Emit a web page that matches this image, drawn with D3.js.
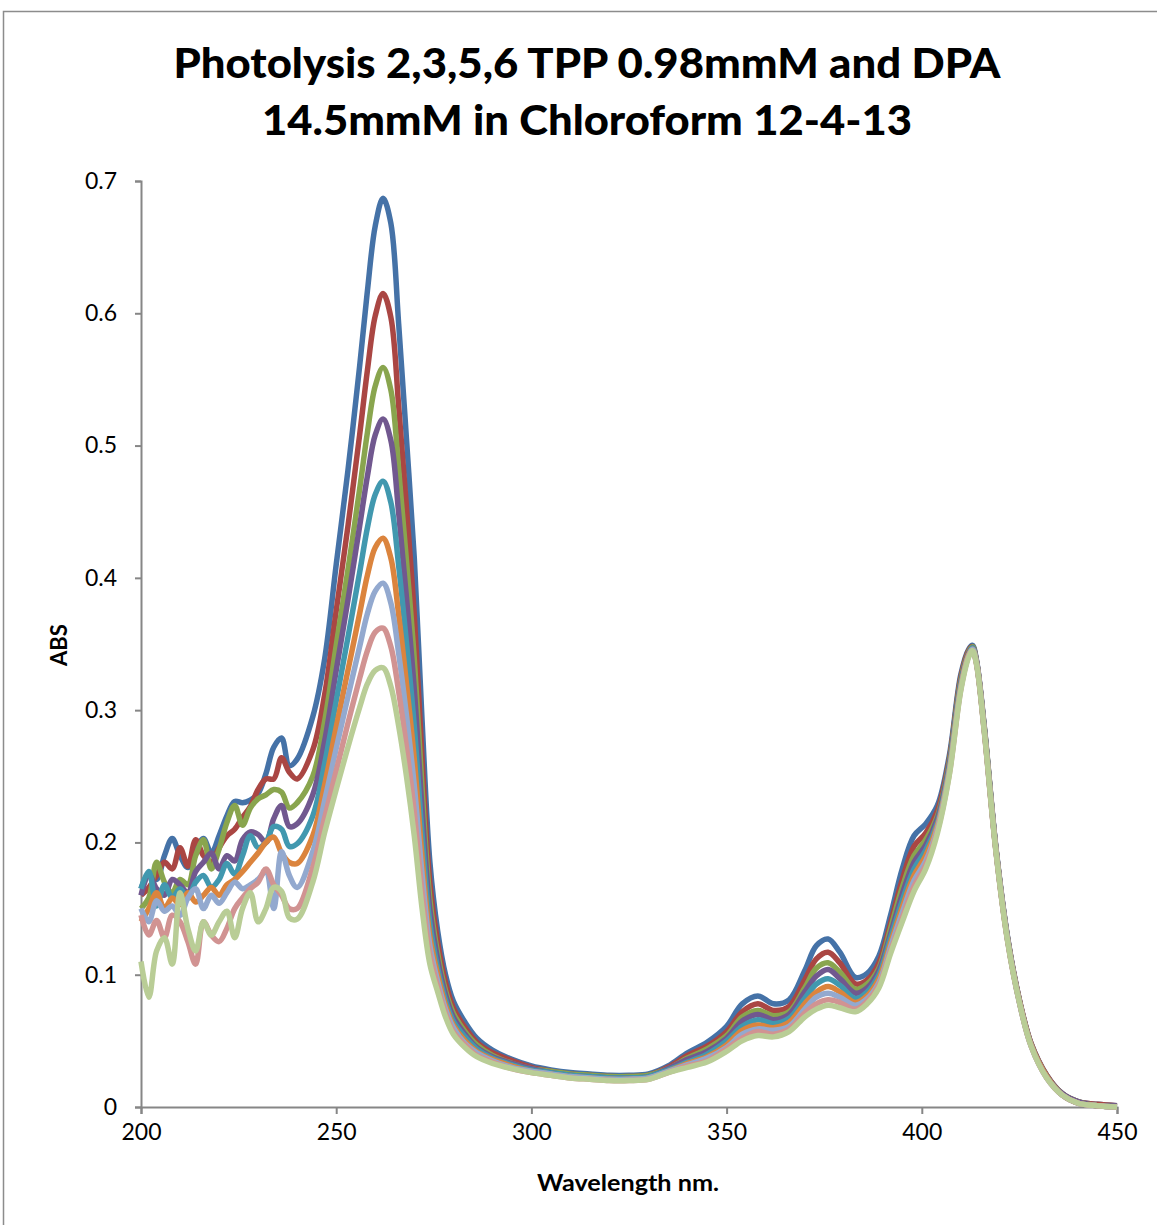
<!DOCTYPE html>
<html>
<head>
<meta charset="utf-8">
<script src="https://cdn.jsdelivr.net/npm/d3@7"></script>
<style>
  body { margin: 0; background: #fff; }
  text { font-family: Lato, "Open Sans", sans-serif; fill: #000; }
</style>
</head>
<body>
<div id="chart"></div>
<script>
// chart data
var wavelength = [200,202,204,206,208,210,212,214,216,218,220,222,224,226,228,230,232,234,236,238,240,
  244,247,250,253,256,258,260,262,264,266,268,270,272,274,276,278,280,283,286,290,295,300,
  305,310,315,320,325,330,335,340,345,350,354,358,362,366,370,373,376,379,
  383,386,389,392,395,398,401,404,407,410,412,413,414,416,419,422,425,428,432,436,440,445,450];

var scan1 = [.165,.176,.172,.190,.203,.190,.181,.194,.203,.192,.205,.220,.231,.230,.232,.237,.252,.272,.279,.258,.263,
  .295,.338,.410,.481,.560,.617,.666,.687,.668,.592,.505,.415,.292,.185,.133,.100,.080,.064,.052,.043,.036,.031,
  .028,.026,.025,.024,.024,.025,.031,.041,.049,.061,.078,.084,.078,.081,.103,.122,.127,.117,
  .098,.101,.114,.145,.180,.205,.214,.228,.265,.327,.346,.349,.338,.288,.196,.128,.081,.048,.024,.010,.004,.002,.001];
var scan2 = [.160,.166,.175,.185,.180,.196,.182,.202,.190,.185,.196,.205,.210,.219,.227,.240,.248,.248,.264,.253,.248,
  .270,.311,.375,.439,.508,.557,.598,.615,.597,.530,.453,.372,.263,.169,.124,.094,.075,.060,.049,.041,.035,.030,
  .027,.025,.024,.023,.023,.024,.030,.039,.046,.057,.072,.078,.073,.076,.096,.112,.117,.109,
  .093,.096,.109,.139,.172,.197,.207,.224,.262,.325,.345,.348,.337,.287,.195,.127,.081,.048,.024,.010,.004,.002,.001];
var scan3 = [.150,.158,.185,.170,.162,.172,.168,.190,.202,.180,.195,.215,.228,.213,.226,.233,.236,.240,.238,.226,.230,
  .250,.291,.349,.406,.467,.510,.545,.559,.542,.482,.413,.339,.241,.157,.116,.088,.071,.057,.047,.039,.033,.029,
  .027,.025,.024,.023,.023,.024,.029,.037,.044,.054,.068,.073,.069,.072,.090,.105,.109,.102,
  .089,.093,.105,.135,.166,.190,.202,.220,.260,.323,.344,.348,.337,.287,.195,.127,.080,.047,.023,.010,.004,.001,.001];
var scan4 = [.160,.176,.165,.160,.172,.168,.162,.178,.185,.192,.180,.190,.186,.202,.208,.206,.200,.218,.228,.212,.214,
  .236,.276,.330,.383,.439,.477,.508,.520,.504,.449,.385,.316,.225,.149,.111,.085,.068,.055,.045,.038,.033,.029,
  .026,.024,.023,.022,.022,.023,.029,.036,.042,.052,.065,.070,.066,.070,.087,.099,.104,.097,
  .086,.090,.103,.131,.161,.185,.198,.218,.258,.321,.343,.347,.337,.286,.195,.127,.080,.047,.023,.010,.004,.001,.001];
var scan5 = [.165,.178,.152,.168,.158,.165,.158,.170,.175,.166,.172,.184,.176,.190,.205,.196,.200,.212,.210,.197,.199,
  .220,.259,.307,.355,.404,.438,.463,.473,.457,.409,.351,.288,.206,.139,.105,.081,.065,.053,.044,.037,.032,.028,
  .026,.024,.023,.022,.022,.023,.028,.034,.040,.050,.061,.066,.063,.067,.082,.093,.097,.092,
  .082,.087,.100,.128,.156,.180,.194,.215,.256,.320,.342,.347,.336,.286,.194,.126,.080,.047,.023,.009,.003,.001,.000];
var scan6 = [.140,.150,.162,.150,.158,.153,.162,.155,.160,.166,.160,.168,.172,.178,.185,.192,.200,.204,.192,.185,.184,
  .205,.243,.287,.330,.373,.402,.423,.430,.415,.372,.320,.263,.189,.129,.100,.077,.062,.050,.042,.036,.031,.027,
  .025,.023,.022,.021,.021,.022,.027,.033,.038,.047,.058,.062,.060,.064,.078,.087,.091,.087,
  .079,.084,.097,.124,.151,.175,.190,.213,.254,.318,.342,.346,.336,.285,.194,.126,.080,.047,.023,.009,.003,.001,.000];
var scan7 = [.150,.140,.156,.148,.152,.145,.158,.165,.150,.160,.154,.162,.170,.165,.168,.172,.178,.150,.193,.175,.166,
  .193,.231,.271,.310,.348,.373,.390,.396,.381,.343,.296,.243,.176,.122,.095,.074,.060,.048,.041,.035,.030,.027,
  .025,.023,.022,.021,.021,.022,.027,.032,.037,.045,.055,.059,.058,.061,.074,.083,.086,.083,
  .077,.082,.094,.121,.147,.171,.186,.211,.253,.317,.341,.346,.336,.285,.194,.126,.079,.046,.022,.009,.003,.001,.000];
var scan8 = [.145,.130,.141,.128,.145,.140,.125,.108,.140,.130,.125,.135,.150,.158,.165,.170,.180,.168,.160,.150,.150,
  .181,.218,.254,.290,.324,.345,.359,.362,.348,.314,.272,.223,.162,.115,.091,.071,.057,.047,.039,.034,.029,.026,
  .024,.022,.021,.020,.020,.021,.026,.031,.035,.044,.052,.057,.055,.059,.071,.078,.081,.079,
  .074,.080,.092,.118,.143,.167,.183,.209,.251,.316,.341,.345,.335,.284,.193,.125,.079,.046,.022,.009,.003,.001,.000];
var scan9 = [.110,.083,.118,.128,.108,.162,.135,.118,.140,.130,.140,.148,.128,.150,.162,.140,.150,.166,.163,.143,.142,
  .170,.207,.240,.272,.302,.320,.330,.332,.318,.288,.250,.205,.150,.108,.087,.068,.055,.045,.038,.033,.029,.026,
  .024,.022,.021,.020,.020,.021,.026,.030,.034,.042,.050,.054,.053,.057,.068,.074,.077,.075,
  .072,.078,.090,.116,.140,.163,.180,.207,.250,.315,.340,.345,.335,.284,.193,.125,.079,.046,.022,.009,.003,.001,.000];

var scans = [scan1, scan2, scan3, scan4, scan5, scan6, scan7, scan8, scan9];
var colors = ["#4572A7", "#AA4643", "#89A54E", "#71588F", "#4198AF", "#DB843D", "#93A9CF", "#D19392", "#B9CD96"];

var xTicks = [200, 250, 300, 350, 400, 450];
var yTicks = [0, 0.1, 0.2, 0.3, 0.4, 0.5, 0.6, 0.7];

var titleLines = ["Photolysis 2,3,5,6 TPP 0.98mmM and DPA", "14.5mmM in Chloroform 12-4-13"];

// set up the chart
var svgWidth = 1157;
var svgHeight = 1225;
var margin = {top: 181, right: 40, bottom: 118, left: 141};
var width = 1117 - margin.left;
var height = 1107 - margin.top;

var svg = d3.select("#chart")
  .append("svg")
  .attr("width", svgWidth)
  .attr("height", svgHeight);

// outer chart frame (runs off the right and bottom of the picture)
svg.append("rect")
  .attr("x", 3.5).attr("y", 11.5)
  .attr("width", 1300).attr("height", 1400)
  .attr("fill", "none")
  .attr("stroke", "#8c8c8c")
  .attr("stroke-width", 1.5);

// title
svg.selectAll(".title")
  .data(titleLines)
  .enter()
  .append("text")
  .attr("class", "title")
  .attr("x", 587)
  .attr("y", (d, i) => 78 + i * 57)
  .attr("text-anchor", "middle")
  .attr("textLength", (d, i) => i == 0 ? 827 : 650)
  .attr("lengthAdjust", "spacingAndGlyphs")
  .style("font-size", "41px")
  .style("font-weight", "900")
  .text(d => d);

var chartGroup = svg.append("g")
  .attr("transform", `translate(${margin.left}, ${margin.top})`);

var xScale = d3.scaleLinear().domain([200, 450]).range([0, width]);
var yScale = d3.scaleLinear().domain([0, 0.7]).range([height, 0]);

// axes
var bottomAxis = d3.axisBottom(xScale).tickValues(xTicks).tickSize(7).tickPadding(10).tickFormat(d3.format("d"));
var leftAxis = d3.axisLeft(yScale).tickValues(yTicks).tickSize(6).tickPadding(18).tickFormat(d => d == 0 ? "0" : d3.format(".1f")(d));

var xAxisG = chartGroup.append("g")
  .attr("transform", `translate(0, ${height})`)
  .call(bottomAxis);
var yAxisG = chartGroup.append("g").call(leftAxis);

[xAxisG, yAxisG].forEach(g => {
  g.select(".domain").attr("stroke", "#868686").attr("stroke-width", 2);
  g.selectAll(".tick line").attr("stroke", "#868686").attr("stroke-width", 2);
  g.selectAll(".tick text").style("font-size", "23px").style("font-family", "Lato, sans-serif").attr("fill", "#000");
});

// lines
var line = d3.line()
  .x((d, i) => xScale(wavelength[i]))
  .y(d => yScale(d))
  .curve(d3.curveCatmullRom.alpha(0.5));

chartGroup.selectAll(".scan")
  .data(scans)
  .enter()
  .append("path")
  .attr("class", "scan")
  .attr("d", d => line(d))
  .attr("fill", "none")
  .attr("stroke", (d, i) => colors[i])
  .attr("stroke-width", 5.5)
  .attr("stroke-linejoin", "round");

// axis titles
svg.append("text")
  .attr("x", 628)
  .attr("y", 1191)
  .attr("text-anchor", "middle")
  .attr("textLength", 182)
  .attr("lengthAdjust", "spacingAndGlyphs")
  .style("font-size", "23px")
  .style("font-weight", "bold")
  .text("Wavelength nm.");

svg.append("text")
  .attr("transform", "translate(67, 645) rotate(-90)")
  .attr("text-anchor", "middle")
  .style("font-size", "22px")
  .style("font-weight", "bold")
  .text("ABS");
</script>
</body>
</html>
